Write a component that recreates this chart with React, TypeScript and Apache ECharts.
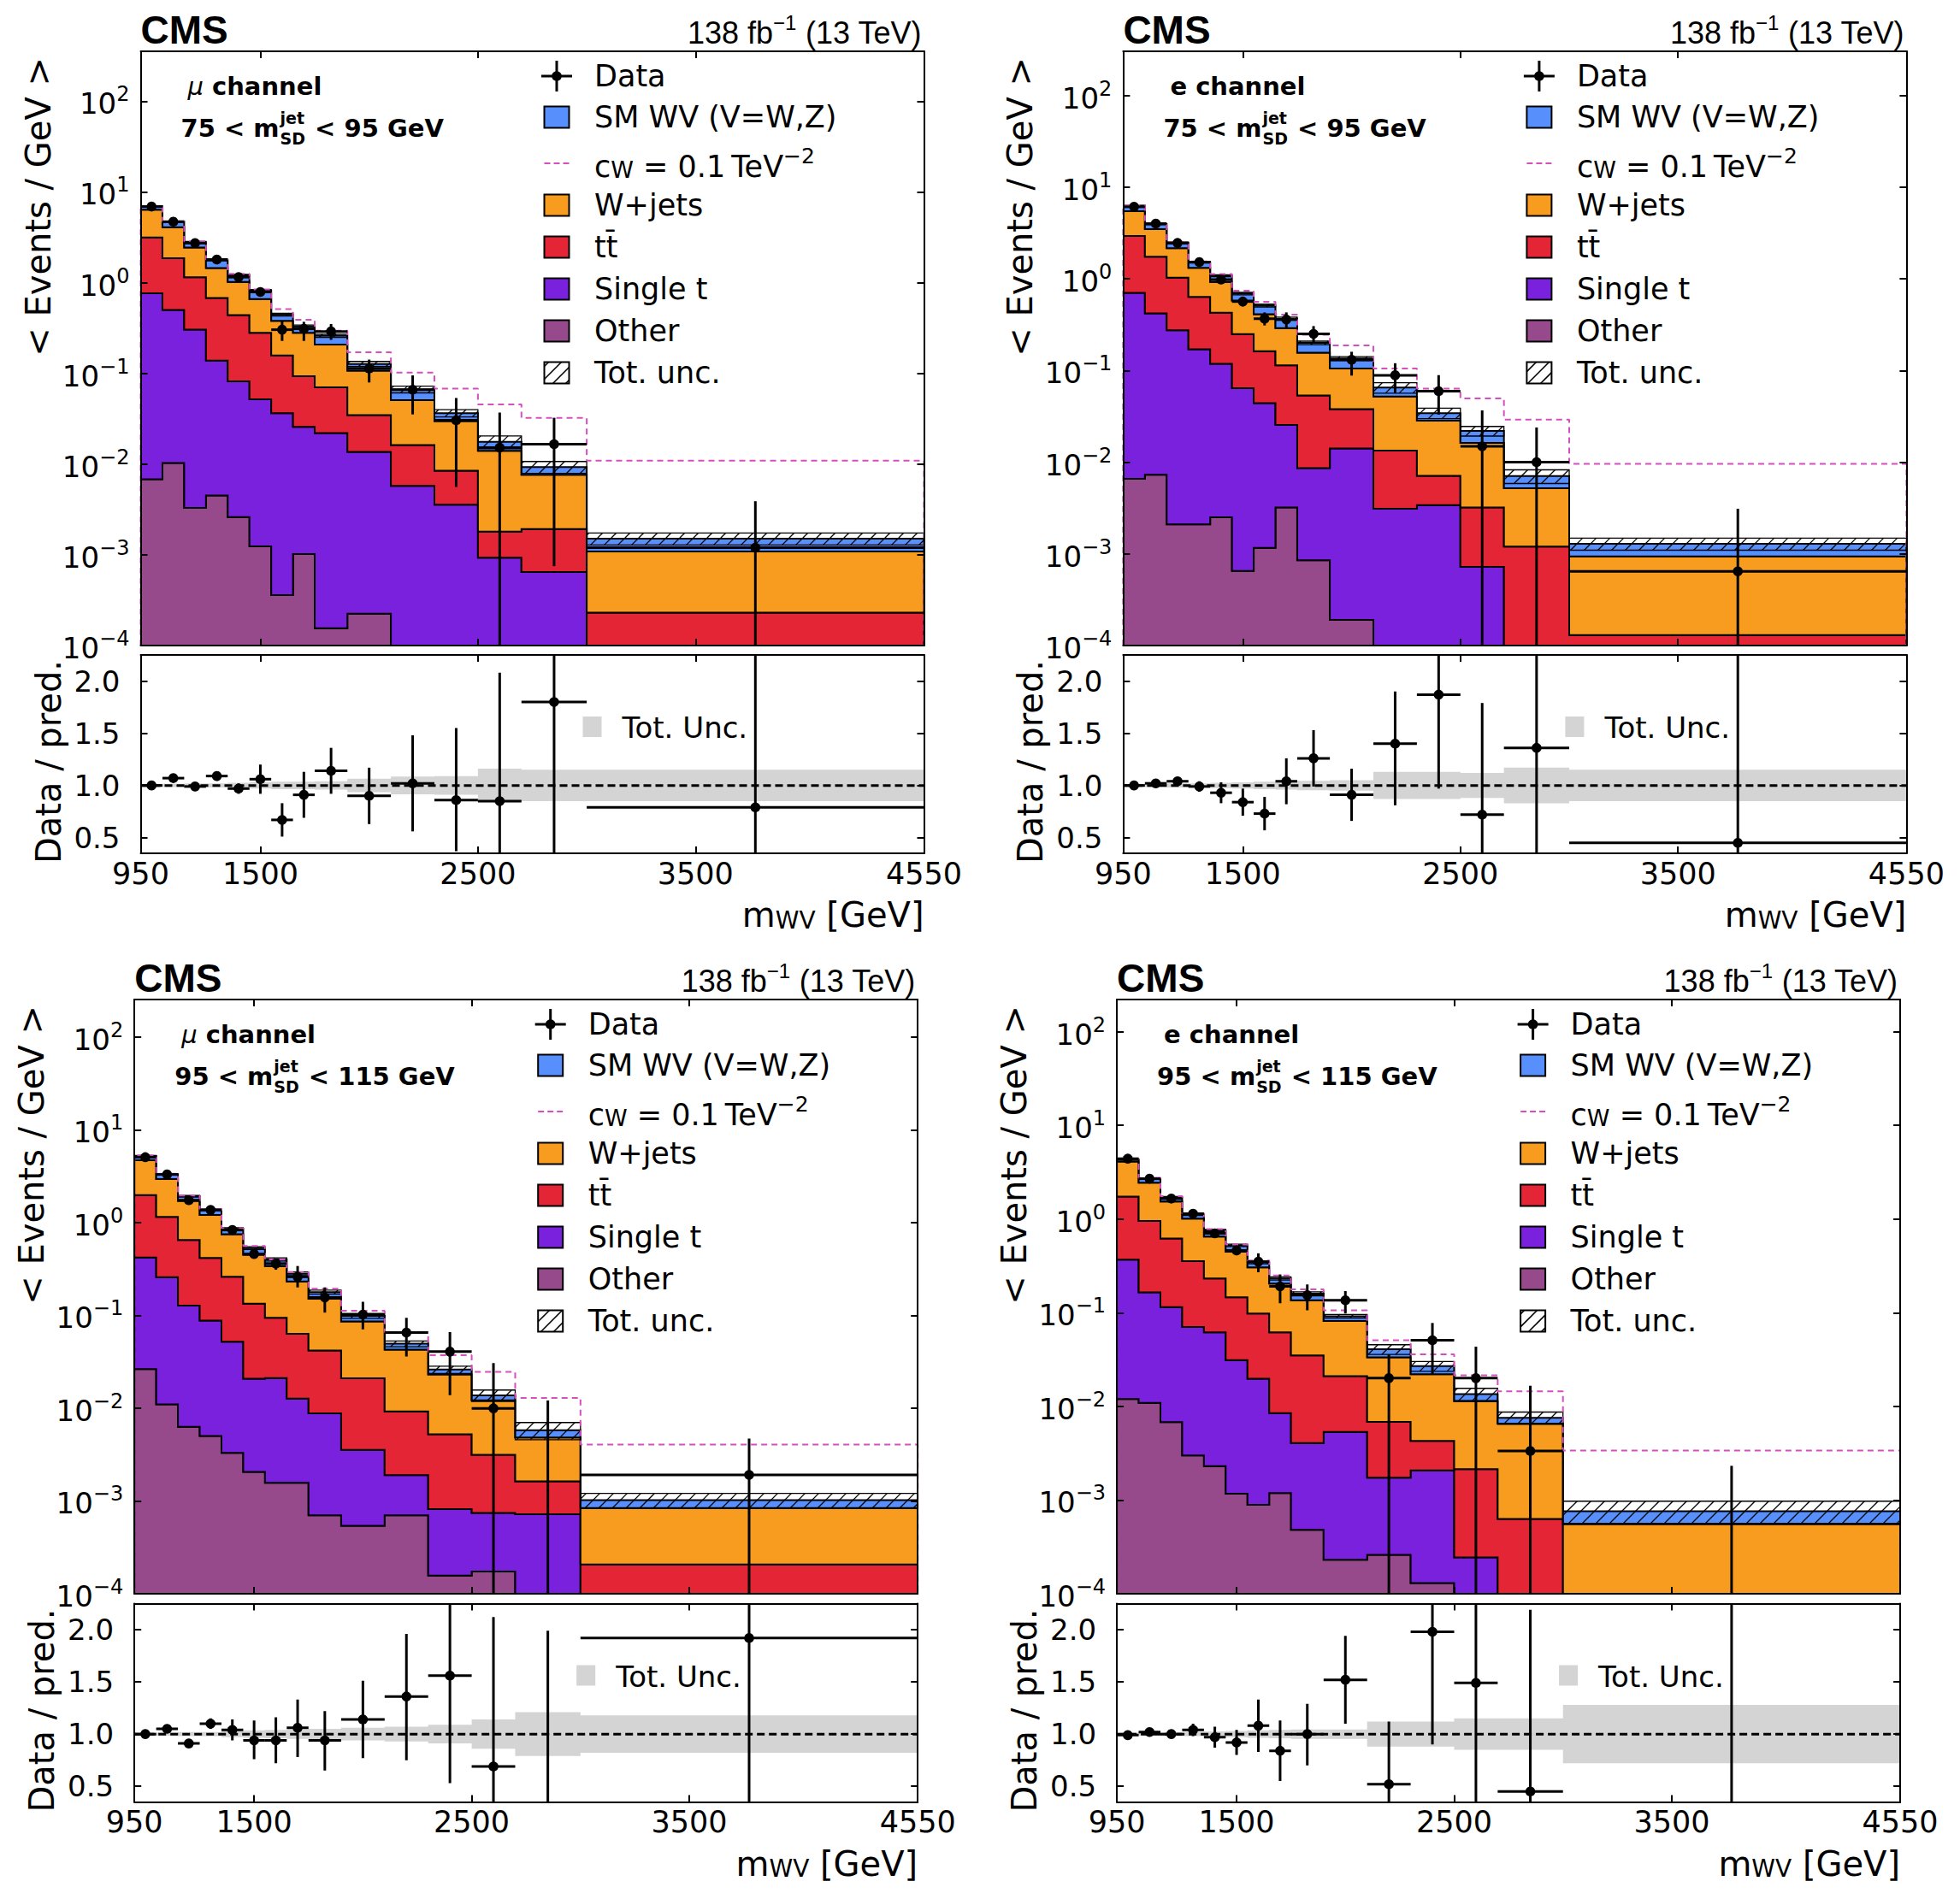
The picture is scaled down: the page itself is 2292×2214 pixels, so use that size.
import * as echarts from "echarts";
import { useEffect, useRef } from "react";

// m_WV bin edges (GeV) and axis ticks
const binEdges = [950, 1050, 1150, 1250, 1350, 1450, 1550, 1650, 1750, 1900, 2100, 2300, 2500, 2700, 3000, 4550];
const xTickValues = [1500, 2500, 3500];
const xLabelValues = [950, 1500, 2500, 3500, 4550];
const logTickValues = [1e-4, 1e-3, 1e-2, 1e-1, 1, 10, 100];
const ratioTickValues = [0.5, 1.0, 1.5, 2.0];

// mu channel, 75 < m_SD < 95 GeV  (events / GeV)
const muLowOther = [0.0068, 0.0103, 0.0033, 0.0045, 0.0026, 0.00124, 0.00036, 0.00102, 0.000155, 0.000224, 0, 0, 0, 0, 0];
const muLowSingleT = [0.759, 0.49, 0.3, 0.134, 0.079, 0.0507, 0.036, 0.0247, 0.0218, 0.0134, 0.00575, 0.00358, 0.00093, 0.000645, 0.00003];
const muLowTTbar = [2.38, 1.36, 0.844, 0.541, 0.358, 0.228, 0.121, 0.0675, 0.0483, 0.021, 0.0105, 0.00487, 0.00087, 0.00128, 0.0002];
const muLowWJets = [3.22, 2.23, 1.29, 0.766, 0.576, 0.379, 0.221, 0.187, 0.137, 0.0724, 0.0345, 0.0214, 0.0122, 0.0057, 0.00086];
const muLowSMWV = [0.53, 0.61, 0.35, 0.325, 0.19, 0.155, 0.067, 0.049, 0.053, 0.02, 0.0159, 0.0066, 0.0036, 0.00166, 0.00042];
const muLowEFT = [7.0, 4.75, 2.85, 1.8, 1.25, 0.84, 0.51, 0.39, 0.295, 0.171, 0.102, 0.068, 0.0455, 0.0323, 0.0109];
const muLowData = [6.9, 4.7, 2.73, 1.8, 1.15, 0.79, 0.303, 0.31, 0.29, 0.113, 0.066, 0.0304, 0.0152, 0.0166, 0.0012];
const muLowDataLo = [6.65, 4.5, 2.6, 1.68, 1.05, 0.7, 0.228, 0.228, 0.234, 0.0794, 0.0353, 0.0056, 0, 0.00075, 0];
const muLowDataHi = [7.15, 4.9, 2.9, 1.93, 1.26, 0.89, 0.378, 0.37, 0.35, 0.142, 0.095, 0.0535, 0.037, 0.0324, 0.0039];
const muLowRatio = [1.0, 1.07, 0.99, 1.09, 0.97, 1.06, 0.67, 0.91, 1.14, 0.9, 1.02, 0.86, 0.85, 1.8, 0.79];
const muLowRatioLo = [0.98, 1.04, 0.96, 1.05, 0.92, 0.92, 0.51, 0.69, 0.92, 0.63, 0.56, 0.37, 0, 0, 0];
const muLowRatioHi = [1.02, 1.1, 1.02, 1.13, 1.02, 1.2, 0.83, 1.13, 1.36, 1.17, 1.48, 1.55, 2.08, 3, 3];
const muLowUnc = [0.015, 0.015, 0.02, 0.02, 0.025, 0.03, 0.035, 0.035, 0.04, 0.065, 0.085, 0.09, 0.16, 0.15, 0.15];

// e channel, 75 < m_SD < 95 GeV
const eLowOther = [0.0066, 0.0073, 0.0021, 0.0021, 0.0025, 0.00065, 0.00116, 0.0032, 0.00085, 0.00019, 0, 0, 0, 0, 0];
const eLowSingleT = [0.698, 0.413, 0.273, 0.168, 0.1155, 0.0634, 0.0428, 0.0223, 0.00775, 0.0139, 0.0031, 0.0034, 0.00072, 0.00003, 0.00001];
const eLowTTbar = [2.225, 1.32, 0.755, 0.465, 0.309, 0.186, 0.118, 0.0885, 0.0449, 0.0239, 0.0103, 0.0037, 0.00248, 0.00117, 0.00012];
const eLowWJets = [2.54, 1.74, 1.13, 0.685, 0.497, 0.33, 0.248, 0.176, 0.1025, 0.067, 0.0386, 0.0212, 0.013, 0.004, 0.00081];
const eLowSMWV = [0.78, 0.46, 0.3, 0.2, 0.156, 0.11, 0.101, 0.077, 0.044, 0.03, 0.013, 0.006, 0.0057, 0.00185, 0.00035];
const eLowEFT = [6.35, 4.0, 2.5, 1.55, 1.13, 0.74, 0.56, 0.406, 0.245, 0.188, 0.105, 0.0636, 0.0496, 0.0292, 0.0096];
const eLowData = [6.1, 4.0, 2.46, 1.52, 0.98, 0.565, 0.367, 0.36, 0.251, 0.131, 0.0887, 0.0594, 0.0149, 0.01, 0.000645];
const eLowDataLo = [5.95, 3.85, 2.35, 1.44, 0.9, 0.5, 0.31, 0.29, 0.2, 0.088, 0.0565, 0.033, 0, 0, 0];
const eLowDataHi = [6.3, 4.15, 2.57, 1.6, 1.06, 0.63, 0.43, 0.43, 0.305, 0.16, 0.12, 0.089, 0.0367, 0.0239, 0.0031];
const eLowRatio = [1.0, 1.02, 1.04, 0.99, 0.93, 0.84, 0.73, 1.04, 1.26, 0.91, 1.4, 1.87, 0.72, 1.36, 0.45];
const eLowRatioLo = [0.98, 0.99, 1.0, 0.94, 0.83, 0.71, 0.57, 0.82, 0.99, 0.66, 0.81, 0.97, 0, 0, 0];
const eLowRatioHi = [1.02, 1.05, 1.08, 1.04, 1.03, 0.97, 0.89, 1.26, 1.53, 1.16, 1.9, 3, 1.79, 3, 3];
const eLowUnc = [0.015, 0.015, 0.02, 0.02, 0.025, 0.03, 0.035, 0.04, 0.045, 0.05, 0.13, 0.13, 0.12, 0.17, 0.15];

// mu channel, 95 < m_SD < 115 GeV
const muHighOther = [0.0263, 0.011, 0.0063, 0.005, 0.0033, 0.00205, 0.00157, 0.00157, 0.0007, 0.00054, 0.0007, 0.000157, 0.000174, 0, 0];
const muHighSingleT = [0.394, 0.247, 0.121, 0.083, 0.0487, 0.0187, 0.0195, 0.0111, 0.0081, 0.003, 0.0012, 0.00066, 0.00057, 0.00072, 0.00002];
const muHighTTbar = [1.56, 0.89, 0.52, 0.327, 0.208, 0.113, 0.073, 0.0506, 0.033, 0.0174, 0.0073, 0.0044, 0.0024, 0.00091, 0.000187];
const muHighWJets = [2.7, 1.79, 1.06, 0.79, 0.49, 0.315, 0.246, 0.168, 0.109, 0.065, 0.0334, 0.0179, 0.009, 0.0032, 0.00063];
const muHighSMWV = [0.52, 0.36, 0.214, 0.163, 0.103, 0.081, 0.06, 0.049, 0.027, 0.0128, 0.0068, 0.0029, 0.0016, 0.00095, 0.000185];
const muHighEFT = [5.3, 3.35, 1.95, 1.4, 0.87, 0.56, 0.4, 0.293, 0.194, 0.112, 0.066, 0.0372, 0.0246, 0.0129, 0.00405];
const muHighData = [5.06, 3.3, 1.74, 1.37, 0.83, 0.458, 0.361, 0.26, 0.156, 0.102, 0.0652, 0.0406, 0.00995, 0, 0.00191];
const muHighDataLo = [4.9, 3.18, 1.66, 1.29, 0.77, 0.41, 0.31, 0.2, 0.107, 0.0706, 0.036, 0.0138, 0, 0, 0];
const muHighDataHi = [5.2, 3.42, 1.83, 1.45, 0.9, 0.51, 0.41, 0.34, 0.2, 0.14, 0.094, 0.066, 0.0305, 0.0121, 0.0047];
const muHighRatio = [1.0, 1.05, 0.91, 1.1, 1.04, 0.94, 0.94, 1.06, 0.94, 1.14, 1.36, 1.56, 0.69, null, 1.92];
const muHighRatioLo = [0.98, 1.02, 0.87, 1.05, 0.94, 0.76, 0.72, 0.78, 0.65, 0.77, 0.75, 0.53, 0, 0, 0];
const muHighRatioHi = [1.02, 1.08, 0.95, 1.15, 1.14, 1.13, 1.16, 1.33, 1.22, 1.51, 1.96, 3, 2.12, 1.99, 3];
const muHighUnc = [0.015, 0.015, 0.02, 0.02, 0.03, 0.035, 0.04, 0.045, 0.05, 0.06, 0.07, 0.09, 0.14, 0.21, 0.18];

// e channel, 95 < m_SD < 115 GeV
const eHighOther = [0.012, 0.0109, 0.0068, 0.003, 0.0023, 0.00117, 0.00089, 0.00119, 0.00048, 0.00023, 0.00026, 0.00013, 0, 0, 0];
const eHighSingleT = [0.356, 0.154, 0.108, 0.0673, 0.0595, 0.03, 0.0188, 0.00728, 0.00358, 0.00511, 0.00147, 0.00194, 0.000244, 0.00003, 0.00001];
const eHighTTbar = [1.362, 0.788, 0.503, 0.284, 0.17, 0.115, 0.078, 0.0533, 0.031, 0.0157, 0.0051, 0.0022, 0.0019, 0.0006, 0.00003];
const eHighWJets = [2.37, 1.487, 0.922, 0.656, 0.418, 0.3015, 0.207, 0.143, 0.1005, 0.0605, 0.0266, 0.0178, 0.0092, 0.0059, 0.00052];
const eHighSMWV = [0.22, 0.25, 0.16, 0.1, 0.103, 0.076, 0.039, 0.027, 0.0245, 0.0101, 0.0072, 0.0048, 0.0022, 0.00103, 0.0002];
const eHighEFT = [4.4, 2.75, 1.75, 1.15, 0.78, 0.535, 0.36, 0.25, 0.177, 0.106, 0.0508, 0.036, 0.0215, 0.0145, 0.00337];
const eHighData = [4.4, 2.69, 1.65, 1.14, 0.703, 0.461, 0.35, 0.191, 0.154, 0.1355, 0.02, 0.0508, 0.02, 0.00334, 0];
const eHighDataLo = [4.25, 2.57, 1.56, 1.06, 0.64, 0.41, 0.27, 0.126, 0.106, 0.098, 0, 0.0221, 0, 0, 0];
const eHighDataHi = [4.55, 2.81, 1.75, 1.22, 0.77, 0.52, 0.43, 0.256, 0.2, 0.17, 0.036, 0.0776, 0.0433, 0.0166, 0.00232];
const eHighRatio = [0.99, 1.02, 1.0, 1.04, 0.97, 0.92, 1.08, 0.84, 1.0, 1.52, 0.52, 1.98, 1.49, 0.45, null];
const eHighRatioLo = [0.97, 0.99, 0.96, 0.98, 0.87, 0.8, 0.83, 0.55, 0.7, 1.1, 0, 0.9, 0, 0, 0];
const eHighRatioHi = [1.01, 1.05, 1.04, 1.1, 1.07, 1.04, 1.33, 1.13, 1.29, 1.94, 1.12, 3, 3, 2.19, 3];
const eHighUnc = [0.015, 0.015, 0.02, 0.02, 0.025, 0.03, 0.035, 0.04, 0.045, 0.045, 0.12, 0.12, 0.15, 0.15, 0.28];

const FONT = "DejaVu Sans";
const HEAD_FONT = "Liberation Sans";
const PLOT_W = 916;
const MAIN_H = 695;
const RATIO_H = 232;
const Y_MIN = 1e-4;
const RATIO_MIN = 0.35;
const RATIO_MAX = 2.25;

const STACK_COLORS = ["#964a8b", "#7a21dd", "#e42536", "#f89c20", "#5790fc"];
const EFT_COLOR = "#d64fbf";
const BAND_COLOR = "#d4d4d4";

const panels = [
  {
    mu: true, massLo: "75", massHi: "95", yMax: 355, left: 164.5, top: 60, ratioTop: 766,
    other: muLowOther, singleT: muLowSingleT, ttbar: muLowTTbar, wjets: muLowWJets, smwv: muLowSMWV,
    eft: muLowEFT, data: muLowData, dataLo: muLowDataLo, dataHi: muLowDataHi,
    ratio: muLowRatio, ratioLo: muLowRatioLo, ratioHi: muLowRatioHi, unc: muLowUnc
  },
  {
    mu: false, massLo: "75", massHi: "95", yMax: 303, left: 1313.4, top: 60, ratioTop: 766,
    other: eLowOther, singleT: eLowSingleT, ttbar: eLowTTbar, wjets: eLowWJets, smwv: eLowSMWV,
    eft: eLowEFT, data: eLowData, dataLo: eLowDataLo, dataHi: eLowDataHi,
    ratio: eLowRatio, ratioLo: eLowRatioLo, ratioHi: eLowRatioHi, unc: eLowUnc
  },
  {
    mu: true, massLo: "95", massHi: "115", yMax: 253, left: 157.2, top: 1169, ratioTop: 1875.5,
    other: muHighOther, singleT: muHighSingleT, ttbar: muHighTTbar, wjets: muHighWJets, smwv: muHighSMWV,
    eft: muHighEFT, data: muHighData, dataLo: muHighDataLo, dataHi: muHighDataHi,
    ratio: muHighRatio, ratioLo: muHighRatioLo, ratioHi: muHighRatioHi, unc: muHighUnc
  },
  {
    mu: false, massLo: "95", massHi: "115", yMax: 220, left: 1306.1, top: 1169, ratioTop: 1875.5,
    other: eHighOther, singleT: eHighSingleT, ttbar: eHighTTbar, wjets: eHighWJets, smwv: eHighSMWV,
    eft: eHighEFT, data: eHighData, dataLo: eHighDataLo, dataHi: eHighDataHi,
    ratio: eHighRatio, ratioLo: eHighRatioLo, ratioHi: eHighRatioHi, unc: eHighUnc
  }
];

let measureCtx: CanvasRenderingContext2D | null = null;
function measure(text: string, font: string) {
  if (!measureCtx) measureCtx = document.createElement("canvas").getContext("2d");
  if (!measureCtx) return text.length * 15;
  measureCtx.font = font;
  return measureCtx.measureText(text).width;
}

// "/" hatch lines clipped to a rectangle (pixel coords)
function hatch(x0: number, y0: number, x1: number, y1: number, step: number, width: number) {
  const lines: any[] = [];
  if (x1 - x0 < 0.5 || y1 - y0 < 0.5) return lines;
  const start = Math.ceil((x0 + y0) / step) * step;
  for (let c = start; c < x1 + y1; c += step) {
    const xa = Math.max(x0, c - y1);
    const xb = Math.min(x1, c - y0);
    if (xb - xa > 0.3) {
      lines.push({ type: "line", shape: { x1: xa, y1: c - xa, x2: xb, y2: c - xb }, style: { stroke: "#000", lineWidth: width } });
    }
  }
  return lines;
}

const axisLine = { show: true, onZero: false, lineStyle: { color: "#000", width: 2 } };
function ticks(values: number[]) {
  return { show: true, inside: true, length: 8, lineStyle: { color: "#000", width: 2 }, customValues: values };
}

function xAxisDef(gridIndex: number, position: string, labels: boolean) {
  return {
    type: "value", gridIndex, position, min: 950, max: 4550, z: 10,
    axisLine, axisTick: ticks(xTickValues), splitLine: { show: false }, minorTick: { show: false },
    axisLabel: labels
      ? {
          show: true, customValues: xLabelValues, fontSize: 35, fontFamily: FONT, color: "#000", margin: 6,
          formatter: (v: number) => String(Math.round(v))
        }
      : { show: false }
  };
}

function logAxisDef(gridIndex: number, position: string, labels: boolean, yMax: number) {
  return {
    type: "log", logBase: 10, gridIndex, position, min: Y_MIN, max: yMax, z: 10,
    axisLine, axisTick: ticks(logTickValues), splitLine: { show: false }, minorTick: { show: false },
    axisLabel: labels
      ? {
          show: true, customValues: logTickValues, margin: 13,
          formatter: (v: number) => {
            const e = Math.round(Math.log10(v));
            return `{b|10}{s|${e < 0 ? "\u2212" + -e : e}}`;
          },
          rich: {
            b: { fontSize: 34, fontFamily: FONT, color: "#000", lineHeight: 40, verticalAlign: "bottom" },
            s: { fontSize: 24, fontFamily: FONT, color: "#000", lineHeight: 32, verticalAlign: "top" }
          }
        }
      : { show: false }
  };
}

function ratioAxisDef(gridIndex: number, position: string, labels: boolean) {
  return {
    type: "value", gridIndex, position, min: RATIO_MIN, max: RATIO_MAX, z: 10,
    axisLine, axisTick: ticks(ratioTickValues), splitLine: { show: false }, minorTick: { show: false },
    axisLabel: labels
      ? {
          show: true, customValues: ratioTickValues, margin: 24, fontSize: 34, fontFamily: FONT, color: "#000",
          formatter: (v: number) => v.toFixed(1)
        }
      : { show: false }
  };
}

function txt(x: number, y: number, text: string, size: number, extra: any = {}, el: any = {}) {
  const align = extra.align || "left";
  return {
    type: "text", x, y, z: 100, silent: true, ...el,
    style: {
      text, fontSize: size, fontFamily: FONT, fontWeight: "normal", fill: "#000",
      align, textAlign: align, verticalAlign: "middle", textVerticalAlign: "middle", ...extra
    }
  };
}

function errorMarks(api: any, b: number, value: number | null, lo: number, hi: number, yLo: number, yHi: number) {
  const clamp = (v: number) => Math.min(Math.max(v, yLo), yHi);
  const xc = (binEdges[b] + binEdges[b + 1]) / 2;
  const children: any[] = [];
  const top = api.coord([xc, clamp(hi)]);
  const bot = api.coord([xc, clamp(lo)]);
  children.push({ type: "line", shape: { x1: top[0], y1: top[1], x2: bot[0], y2: bot[1] }, style: { stroke: "#000", lineWidth: 3 } });
  if (value != null && value > 0) {
    const l = api.coord([binEdges[b], value]);
    const r = api.coord([binEdges[b + 1], value]);
    const c = api.coord([xc, value]);
    children.push({ type: "line", shape: { x1: l[0], y1: l[1], x2: r[0], y2: r[1] }, style: { stroke: "#000", lineWidth: 3 } });
    children.push({ type: "circle", shape: { cx: c[0], cy: c[1], r: 5.8 }, style: { fill: "#000" } });
  }
  return { type: "group", children };
}

const legendRows = [29, 77, 131, 180, 229, 278, 327, 376];

function panelGraphics(p: any) {
  const out: any[] = [];
  const right = p.left + PLOT_W;
  const ratioBottom = p.ratioTop + RATIO_H;

  // header
  out.push(txt(p.left, p.top - 25, "CMS", 46, { fontFamily: HEAD_FONT, fontWeight: "bold" }));
  out.push(
    txt(right - 3, p.top - 25, "{n|138 fb}{s|\u22121}{n| (13 TeV)}", 36, {
      align: "right",
      rich: {
        n: { fontSize: 36, fontFamily: HEAD_FONT, fill: "#000", lineHeight: 42, verticalAlign: "bottom" },
        s: { fontSize: 24, fontFamily: HEAD_FONT, fill: "#000", lineHeight: 22, verticalAlign: "top" }
      }
    })
  );

  // channel and mass window
  out.push(
    txt(p.left + 55, p.top + 41, p.mu ? "{m|\u03bc}{b| channel}" : "{b|e channel}", 29, {
      rich: {
        m: { fontSize: 29, fontFamily: FONT, fontStyle: "italic", fontWeight: "normal", fill: "#000" },
        b: { fontSize: 29, fontFamily: FONT, fontWeight: "bold", fill: "#000" }
      }
    })
  );
  const big = `bold 29px '${FONT}'`;
  const small = `bold 19px '${FONT}'`;
  const first = `${p.massLo} < m`;
  const x0 = p.left + 47;
  const cy = p.top + 90;
  const xs = x0 + measure(first, big) + 1;
  const wScript = Math.max(measure("jet", small), measure("SD", small));
  out.push(txt(x0, cy, first, 29, { fontWeight: "bold" }));
  out.push(txt(xs, cy - 12, "jet", 19, { fontWeight: "bold" }));
  out.push(txt(xs, cy + 12, "SD", 19, { fontWeight: "bold" }));
  out.push(txt(xs + wScript + 1, cy, ` < ${p.massHi} GeV`, 29, { fontWeight: "bold" }));

  // main legend
  const bx = p.left + 472;
  const bw = 29;
  const bh = 25;
  const tx = p.left + 530.5;
  const entries: any[] = [
    { kind: "data", label: "Data" },
    { kind: "box", color: STACK_COLORS[4], label: "SM WV (V=W,Z)" },
    { kind: "dash", label: "cw" },
    { kind: "box", color: STACK_COLORS[3], label: "W+jets" },
    { kind: "box", color: STACK_COLORS[2], label: "tt\u0304" },
    { kind: "box", color: STACK_COLORS[1], label: "Single t" },
    { kind: "box", color: STACK_COLORS[0], label: "Other" },
    { kind: "hatch", label: "Tot. unc." }
  ];
  entries.forEach((en, r) => {
    const y = p.top + legendRows[r];
    if (en.kind === "data") {
      const cx = bx + bw / 2;
      out.push({ type: "line", z: 100, silent: true, shape: { x1: cx - 18, y1: y, x2: cx + 18, y2: y }, style: { stroke: "#000", lineWidth: 3 } });
      out.push({ type: "line", z: 100, silent: true, shape: { x1: cx, y1: y - 18, x2: cx, y2: y + 18 }, style: { stroke: "#000", lineWidth: 3 } });
      out.push({ type: "circle", z: 100, silent: true, shape: { cx, cy: y, r: 5.8 }, style: { fill: "#000" } });
    } else if (en.kind === "box") {
      out.push({ type: "rect", z: 100, silent: true, shape: { x: bx, y: y - bh / 2, width: bw, height: bh }, style: { fill: en.color, stroke: "#000", lineWidth: 2 } });
    } else if (en.kind === "dash") {
      out.push({ type: "line", z: 100, silent: true, shape: { x1: bx, y1: y, x2: bx + bw, y2: y }, style: { stroke: EFT_COLOR, lineWidth: 2, lineDash: [7, 4] } });
    } else {
      out.push({ type: "rect", z: 100, silent: true, shape: { x: bx, y: y - bh / 2, width: bw, height: bh }, style: { fill: "#fff", stroke: "#000", lineWidth: 2 } });
      hatch(bx, y - bh / 2, bx + bw, y + bh / 2, 15, 1.6).forEach((l) => out.push({ ...l, z: 101, silent: true }));
    }
    if (en.label === "cw") {
      out.push(
        txt(tx, y, "{n|c}{w|W}{n| = 0.1\u2009TeV}{s|\u22122}", 35, {
          rich: {
            n: { fontSize: 35, fontFamily: FONT, fill: "#000", lineHeight: 42, verticalAlign: "bottom" },
            w: { fontSize: 27, fontFamily: FONT, fill: "#000", lineHeight: 16, verticalAlign: "bottom" },
            s: { fontSize: 25, fontFamily: FONT, fill: "#000", lineHeight: 20, verticalAlign: "top" }
          }
        })
      );
    } else {
      out.push(txt(tx, y, en.label, 35));
    }
  });

  // ratio legend
  out.push({ type: "rect", z: 100, silent: true, shape: { x: p.left + 517, y: p.ratioTop + 72, width: 22, height: 24 }, style: { fill: BAND_COLOR } });
  out.push(txt(p.left + 563, p.ratioTop + 85, "Tot. Unc.", 34));

  // axis titles
  out.push(txt(p.left - 120, p.top + 7, "< Events / GeV >", 40, { align: "right" }, { rotation: Math.PI / 2 }));
  out.push(txt(p.left - 108, p.ratioTop + 6, "Data / pred.", 40, { align: "right" }, { rotation: Math.PI / 2 }));
  out.push(
    txt(right, ratioBottom + 68, "{b|m}{w|WV}{b| [GeV]}", 40, {
      align: "right",
      rich: {
        b: { fontSize: 40, fontFamily: FONT, fill: "#000", lineHeight: 48, verticalAlign: "bottom" },
        w: { fontSize: 28, fontFamily: FONT, fill: "#000", lineHeight: 18, verticalAlign: "bottom" }
      }
    })
  );
  return out;
}

function buildOption() {
  const grid: any[] = [];
  const xAxis: any[] = [];
  const yAxis: any[] = [];
  const series: any[] = [];
  const elements: any[] = [];
  const nBins = binEdges.length - 1;

  panels.forEach((p, i) => {
    grid.push({ left: p.left, top: p.top, width: PLOT_W, height: MAIN_H, containLabel: false, outerBoundsMode: "none" });
    grid.push({ left: p.left, top: p.ratioTop, width: PLOT_W, height: RATIO_H, containLabel: false, outerBoundsMode: "none" });
    xAxis.push(xAxisDef(2 * i, "bottom", false), xAxisDef(2 * i, "top", false), xAxisDef(2 * i + 1, "bottom", true), xAxisDef(2 * i + 1, "top", false));
    yAxis.push(
      logAxisDef(2 * i, "left", true, p.yMax),
      logAxisDef(2 * i, "right", false, p.yMax),
      ratioAxisDef(2 * i + 1, "left", true),
      ratioAxisDef(2 * i + 1, "right", false)
    );
    const mx = 4 * i;
    const rx = 4 * i + 2;
    const clampMain = (v: number) => Math.min(Math.max(v, Y_MIN), p.yMax);
    const clampRatio = (v: number) => Math.min(Math.max(v, RATIO_MIN), RATIO_MAX);

    // stacked backgrounds
    const comps = [p.other, p.singleT, p.ttbar, p.wjets, p.smwv];
    const cum: number[][] = [comps[0].map(() => 0)];
    comps.forEach((c, k) => cum.push(c.map((v, b) => cum[k][b] + v)));
    const total = cum[comps.length];

    series.push({
      type: "custom", xAxisIndex: mx, yAxisIndex: mx, silent: true, clip: true, z: 2,
      data: comps.map(() => [2750, 1]),
      renderItem: (params: any, api: any) => {
        const k = params.dataIndex;
        const pts: number[][] = [];
        for (let b = 0; b < nBins; b++) {
          pts.push(api.coord([binEdges[b], clampMain(cum[k + 1][b])]));
          pts.push(api.coord([binEdges[b + 1], clampMain(cum[k + 1][b])]));
        }
        for (let b = nBins - 1; b >= 0; b--) {
          pts.push(api.coord([binEdges[b + 1], clampMain(cum[k][b])]));
          pts.push(api.coord([binEdges[b], clampMain(cum[k][b])]));
        }
        return { type: "polygon", shape: { points: pts }, style: { fill: STACK_COLORS[k], stroke: "#000", lineWidth: 2 } };
      }
    });

    // hatched total uncertainty
    series.push({
      type: "custom", xAxisIndex: mx, yAxisIndex: mx, silent: true, clip: true, z: 3,
      data: total.map((t, b) => [(binEdges[b] + binEdges[b + 1]) / 2, t]),
      renderItem: (params: any, api: any) => {
        const b = params.dataIndex;
        const a = api.coord([binEdges[b], clampMain(total[b] * (1 + p.unc[b]))]);
        const c = api.coord([binEdges[b + 1], clampMain(total[b] * (1 - p.unc[b]))]);
        return {
          type: "group",
          children: [
            ...hatch(a[0], a[1], c[0], c[1], 16, 1.3),
            { type: "rect", shape: { x: a[0], y: a[1], width: c[0] - a[0], height: c[1] - a[1] }, style: { fill: "none", stroke: "#000", lineWidth: 1.3 } }
          ]
        };
      }
    });

    // EFT c_W = 0.1 TeV^-2 step line
    const eftPts: number[][] = [[binEdges[0], Y_MIN]];
    p.eft.forEach((v, b) => eftPts.push([binEdges[b], v]));
    eftPts.push([binEdges[nBins], p.eft[nBins - 1]], [binEdges[nBins], Y_MIN]);
    series.push({
      type: "line", xAxisIndex: mx, yAxisIndex: mx, data: eftPts, step: "end", symbol: "none", silent: true, clip: true, z: 4,
      lineStyle: { color: EFT_COLOR, width: 2, type: [7, 5] }
    });

    // data
    series.push({
      type: "custom", xAxisIndex: mx, yAxisIndex: mx, silent: true, clip: true, z: 5,
      data: p.data.map((v, b) => [(binEdges[b] + binEdges[b + 1]) / 2, v > 0 ? v : 1]),
      renderItem: (params: any, api: any) => {
        const b = params.dataIndex;
        return errorMarks(api, b, p.data[b], p.dataLo[b], p.dataHi[b], Y_MIN, p.yMax);
      }
    });

    // ratio uncertainty band
    series.push({
      type: "custom", xAxisIndex: rx, yAxisIndex: rx, silent: true, clip: true, z: 1,
      data: [[2750, 1]],
      renderItem: (params: any, api: any) => {
        const pts: number[][] = [];
        for (let b = 0; b < nBins; b++) {
          pts.push(api.coord([binEdges[b], clampRatio(1 + p.unc[b])]));
          pts.push(api.coord([binEdges[b + 1], clampRatio(1 + p.unc[b])]));
        }
        for (let b = nBins - 1; b >= 0; b--) {
          pts.push(api.coord([binEdges[b + 1], clampRatio(1 - p.unc[b])]));
          pts.push(api.coord([binEdges[b], clampRatio(1 - p.unc[b])]));
        }
        return { type: "polygon", shape: { points: pts }, style: { fill: BAND_COLOR } };
      }
    });

    series.push({
      type: "line", xAxisIndex: rx, yAxisIndex: rx, data: [[950, 1], [4550, 1]], symbol: "none", silent: true, z: 2,
      lineStyle: { color: "#000", width: 3, type: [9, 5] }
    });

    series.push({
      type: "custom", xAxisIndex: rx, yAxisIndex: rx, silent: true, clip: true, z: 5,
      data: p.ratio.map((v, b) => [(binEdges[b] + binEdges[b + 1]) / 2, v == null ? 1 : v]),
      renderItem: (params: any, api: any) => {
        const b = params.dataIndex;
        return errorMarks(api, b, p.ratio[b], p.ratioLo[b], p.ratioHi[b], RATIO_MIN, RATIO_MAX);
      }
    });

    elements.push(...panelGraphics(p));
  });

  return {
    animation: false,
    backgroundColor: "#fff",
    textStyle: { fontFamily: FONT },
    grid,
    xAxis,
    yAxis,
    series,
    graphic: { elements }
  };
}

export default function App() {
  const ref = useRef<HTMLDivElement | null>(null);

  useEffect(() => {
    if (!ref.current) {
      return;
    }
    const chart = echarts.init(ref.current, null, { renderer: "svg" });
    chart.setOption(buildOption());
    return () => {
      chart.dispose();
    };
  }, []);

  return <div ref={ref} style={{ position: "absolute", left: 0, top: 0, width: 2292, height: 2214, background: "#fff" }} />;
}
